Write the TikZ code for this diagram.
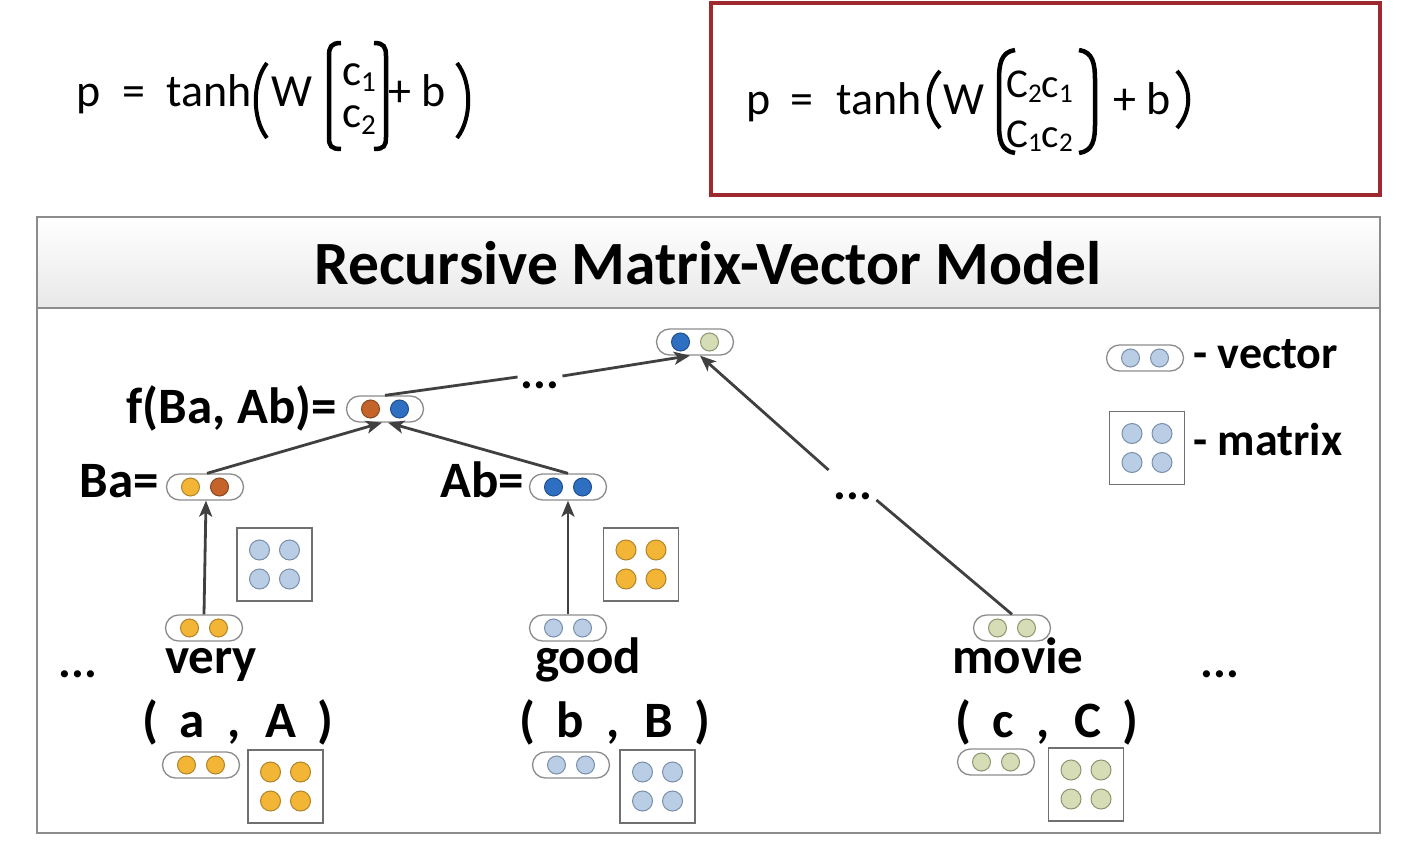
\documentclass[tikz,border=0pt]{standalone}
\usepackage{fontspec}
\setmainfont{Carlito}
\usetikzlibrary{arrows.meta,shapes.misc}
\definecolor{yel}{HTML}{F2B536}
\definecolor{yelo}{HTML}{B08428}
\definecolor{brn}{HTML}{C4642A}
\definecolor{brno}{HTML}{8A4820}
\definecolor{blu}{HTML}{2F6FC1}
\definecolor{bluo}{HTML}{1F4E8C}
\definecolor{lbl}{HTML}{B9CDE5}
\definecolor{lblo}{HTML}{7A8EAA}
\definecolor{grn}{HTML}{D6DDB6}
\definecolor{grno}{HTML}{8A9670}
\definecolor{redbox}{HTML}{9E2A2F}
\definecolor{arrc}{HTML}{404040}
\definecolor{frame}{HTML}{8C8C8C}
\newcommand\myfs[1]{\fontsize{#1}{#1}\selectfont}
\tikzset{
  pillbox/.style={draw=frame, line width=1.3pt, fill=white, rounded rectangle,
    minimum width=77pt, minimum height=26pt, inner sep=0pt},
  dot/.style={circle, minimum size=18pt, inner sep=0pt, line width=1pt},
  mdot/.style={circle, minimum size=20pt, inner sep=0pt, line width=1pt},
  mbox/.style={draw=frame!80!black, line width=1.3pt, fill=white,
    minimum width=75pt, minimum height=73pt, inner sep=0pt},
  arr/.style={draw=arrc, line width=2.8pt, -{Stealth[length=16pt,width=13pt,inset=4pt]}},
  ln/.style={draw=arrc, line width=2.8pt},
  ftxt/.style={inner sep=0pt, anchor=base west, font={\myfs{46}}},
  lab/.style={inner sep=0pt, font={\myfs{51}\bfseries}},
  dts/.style={inner sep=0pt, font={\myfs{48}\bfseries}},
  paren/.style={draw=black, line width=4pt},
}
\newcommand\vecpill[5]{%
  \node[pillbox] (#1) at (#2,#3) {};
  \node[dot, fill=#4, draw=#4o] at ([xshift=-14.5pt]#1.center) {};
  \node[dot, fill=#5, draw=#5o] at ([xshift=14.5pt]#1.center) {};
}
\newcommand\matbox[4]{%
  \node[mbox] (#1) at (#2,#3) {};
  \foreach \dx in {-15,15}{\foreach \dy in {-14.5,14.5}{
    \node[mdot, fill=#4, draw=#4o] at ([xshift=\dx pt, yshift=\dy pt]#1.center) {};}}
}
\begin{document}
\begin{tikzpicture}[x=1pt,y=-1pt]
\useasboundingbox (0,0) rectangle (1416,848);
\fill[white] (0,0) rectangle (1416,848);

% ---------- formula 1 ----------
\node[ftxt] (f1p) at (76,107) {p};
\node[ftxt] (f1eq) at (122,107) {=};
\node[ftxt] (f1tanh) at (166,107) {tanh};
\draw[paren] (267,63) .. controls (252,82) and (252,119) .. (267,138);
\node[ftxt] (f1W) at (271,107) {W};
\draw[paren, line width=4.5pt] (341,43) .. controls (331,43) and (329,47) .. (329,56) -- (329,137) .. controls (329,146) and (331,149) .. (341,149);
\node[ftxt, font={\myfs{45}}] (f1c1) at (342,86) {c\raisebox{-6pt}{\myfs{29}1}};
\node[ftxt, font={\myfs{45}}] (f1c2) at (342,128) {c\raisebox{-7pt}{\myfs{29}2}};
\draw[paren, line width=4.5pt] (374,43) .. controls (384,43) and (386,47) .. (386,56) -- (386,137) .. controls (386,146) and (384,149) .. (374,149);
\node[ftxt] (f1plus) at (388,107) {+ b};
\draw[paren] (457,63) .. controls (472,82) and (472,119) .. (457,138);

% ---------- formula 2 ----------
\draw[redbox, line width=4pt] (711,3) rectangle (1380,195);
\node[ftxt] (f2p) at (746,115) {p};
\node[ftxt] (f2eq) at (790,115) {=};
\node[ftxt] (f2tanh) at (836,115) {tanh};
\draw[paren] (940,71) .. controls (925,88) and (925,111) .. (940,128);
\node[ftxt] (f2W) at (943,115) {W};
\draw[paren, line width=4.5pt] (1015,50) .. controls (1001,52) and (999,64) .. (999,80) -- (999,124) .. controls (999,140) and (1001,151) .. (1015,153);
\node[ftxt, font={\myfs{41}}] (f2r1) at (1006,98) {C\raisebox{-5pt}{\myfs{27}2}c\raisebox{-5pt}{\myfs{27}1}};
\node[ftxt, font={\myfs{41}}] (f2r2) at (1006,147) {C\raisebox{-5pt}{\myfs{27}1}c\raisebox{-5pt}{\myfs{27}2}};
\draw[paren, line width=4.5pt] (1079,50) .. controls (1093,52) and (1095,64) .. (1095,80) -- (1095,124) .. controls (1095,140) and (1093,151) .. (1079,153);
\node[ftxt] (f2plus) at (1113,115) {+ b};
\draw[paren] (1177,71) .. controls (1192,88) and (1192,111) .. (1177,128);

% ---------- main panel ----------
\shade[top color=white, bottom color=black!9] (37,217) rectangle (1380,308);
\draw[frame, line width=1.5pt] (37,308) -- (1380,308);
\draw[frame, line width=2pt] (37,217) rectangle (1380,833);
\node[inner sep=0pt, anchor=base, font={\myfs{61.5}\bfseries}] (title) at (708,284) {Recursive Matrix-Vector Model};

% vectors
\vecpill{top}{695}{342}{blu}{grn}
\vecpill{fba}{385}{409}{brn}{blu}
\vecpill{ba}{205}{487}{yel}{brn}
\vecpill{ab}{568}{487}{blu}{blu}
\vecpill{very}{204}{628}{yel}{yel}
\vecpill{good}{568}{628}{lbl}{lbl}
\vecpill{movie}{1012}{628}{grn}{grn}
\vecpill{va}{201}{765}{yel}{yel}
\vecpill{vb}{571}{765}{lbl}{lbl}
\vecpill{vc}{996}{762}{grn}{grn}
\vecpill{legv}{1145}{358}{lbl}{lbl}

% matrices
\matbox{mB}{274.5}{564.5}{lbl}
\matbox{mA}{641}{564.5}{yel}
\matbox{ma}{285.5}{786.5}{yel}
\matbox{mb}{657.5}{786.5}{lbl}
\matbox{mc}{1086}{784.5}{grn}
\matbox{legm}{1147}{448}{lbl}

% labels
\node[lab, anchor=base east] (lfba) at (337,423) {f(Ba, Ab)=};
\node[lab, anchor=base east] (lba) at (159,497) {Ba=};
\node[lab, anchor=base east] (lab1) at (524,497) {Ab=};
\node[lab, anchor=base] (wvery) at (211,673) {very};
\node[lab, anchor=base] (wgood) at (588,673) {good};
\node[lab, anchor=base] (wmovie) at (1018,673) {movie};
\node[dts, anchor=base] (dl) at (78,677) {...};
\node[dts, anchor=base] (dr) at (1220,677) {...};
\node[lab, anchor=base] (pa) at (238,737) {(\hspace{21pt}a\hspace{23pt},\hspace{25pt}A\hspace{21pt})};
\node[lab, anchor=base] (pb) at (615,737) {(\hspace{21pt}b\hspace{23pt},\hspace{25pt}B\hspace{21pt})};
\node[lab, anchor=base] (pc) at (1047,737) {(\hspace{21pt}c\hspace{23pt},\hspace{25pt}C\hspace{21pt})};
\node[lab, anchor=base west, font={\myfs{46}\bfseries}] (lvec) at (1193,368) {- vector};
\node[lab, anchor=base west, font={\myfs{46}\bfseries}] (lmat) at (1193,455) {- matrix};

% dots on paths
\node[dts] (d1) at (540,385) {...};
\node[dts] (d2) at (853,496) {...};

% connectors
\draw[arr] (very.north) -- ([xshift=1pt]ba.south);
\draw[arr] (good.north) -- (ab.south);
\draw[arr] ([xshift=2pt]ba.north) -- ([xshift=-3pt]fba.south);
\draw[arr] (ab.north) -- ([xshift=3pt]fba.south);
\draw[ln] (fba.north) -- ([xshift=-3pt,yshift=8pt]d1.west);
\draw[arr] ([xshift=3pt,yshift=9pt]d1.east) -- ([xshift=-5pt]top.south);
\draw[ln] (movie.north) -- ([xshift=4pt,yshift=-4pt]d2.east);
\draw[arr] ([xshift=-5pt,yshift=26pt]d2.west) -- ([xshift=5pt]top.south);
\end{tikzpicture}
\end{document}
